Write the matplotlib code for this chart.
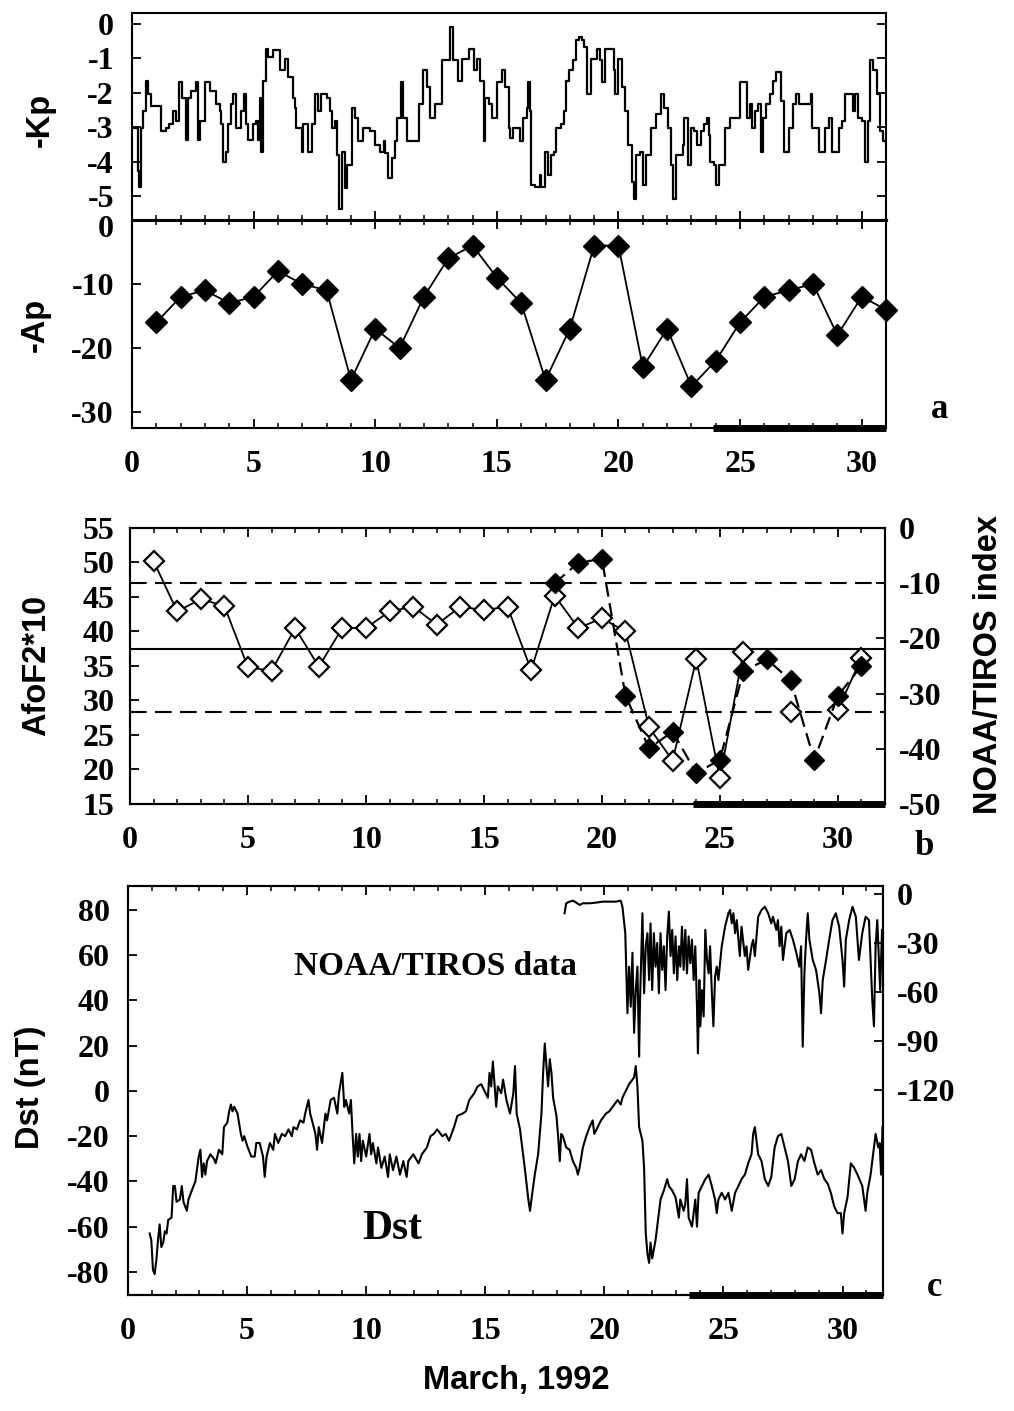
import matplotlib.pyplot as plt
from matplotlib.ticker import MultipleLocator
from matplotlib.transforms import ScaledTranslation

# ---- panel a: Kp (3-hourly) ----
kp_day = [0.00, 0.23, 0.30, 0.37, 0.44, 0.58, 0.65, 0.78, 1.13, 1.20, 1.26, 1.40, 1.54, 1.68, 1.81,
          1.95, 2.06, 2.20, 2.30, 2.43, 2.64, 2.71, 2.78, 3.02, 3.19, 3.46, 3.60, 3.67, 3.74, 3.85,
          3.95, 4.08, 4.15, 4.29, 4.49, 4.59, 4.70, 4.77, 4.98, 5.11, 5.18, 5.25, 5.32, 5.39, 5.50,
          5.59, 5.80, 6.08, 6.28, 6.42, 6.63, 6.69, 6.76, 6.97, 7.04, 7.24, 7.38, 7.52, 7.66, 7.79,
          8.00, 8.14, 8.21, 8.34, 8.41, 8.52, 8.62, 8.76, 8.82, 9.03, 9.17, 9.31, 9.51, 9.79, 9.99,
          10.20, 10.34, 10.41, 10.54, 10.68, 10.82, 10.89, 11.05, 11.16, 11.30, 11.57, 11.78, 11.96,
          12.12, 12.26, 12.47, 12.74, 13.06, 13.20, 13.40, 13.57, 13.84, 14.05, 14.19, 14.32, 14.46,
          14.53, 14.67, 14.80, 15.01, 15.22, 15.35, 15.49, 15.54, 15.68, 15.88, 15.95, 16.08, 16.22,
          16.28, 16.35, 16.42, 16.55, 16.76, 16.82, 16.96, 17.09, 17.23, 17.36, 17.43, 17.64, 17.77,
          17.84, 17.97, 18.11, 18.24, 18.38, 18.51, 18.58, 18.72, 18.85, 19.12, 19.26, 19.32, 19.46,
          19.66, 19.80, 19.86, 20.00, 20.14, 20.27, 20.41, 20.54, 20.65, 20.74, 20.88, 21.01, 21.15,
          21.35, 21.55, 21.76, 21.89, 22.03, 22.16, 22.23, 22.36, 22.64, 22.70, 22.84, 22.97, 23.11,
          23.24, 23.38, 23.51, 23.65, 23.72, 23.78, 23.92, 23.99, 24.12, 24.26, 24.39, 24.59, 24.86,
          25.00, 25.20, 25.27, 25.41, 25.47, 25.61, 25.74, 25.88, 25.95, 26.08, 26.22, 26.35, 26.49,
          26.69, 26.82, 27.03, 27.16, 27.30, 27.43, 27.70, 27.91, 27.97, 28.11, 28.24, 28.51, 28.65,
          28.78, 28.92, 29.05, 29.19, 29.32, 29.53, 29.66, 29.73, 29.86, 30.00, 30.14, 30.27, 30.34,
          30.47, 30.61, 30.74, 30.88, 31.00]
kp_val = [-3.02, -4.29, -4.74, -3.02, -2.53, -1.65, -2.04, -2.38, -2.38, -3.12, -3.12, -3.02, -2.92,
          -2.53, -2.82, -1.70, -2.14, -3.36, -2.14, -1.94, -1.70, -3.36, -2.82, -1.70, -1.94, -2.33,
          -2.53, -2.92, -4.00, -3.71, -2.92, -2.33, -2.04, -3.02, -2.53, -2.04, -2.92, -3.36, -2.92,
          -2.82, -3.36, -2.14, -3.71, -1.65, -0.72, -0.96, -0.76, -1.35, -1.01, -1.55, -2.14, -2.43,
          -3.02, -3.71, -2.92, -3.71, -2.92, -2.04, -2.53, -2.04, -2.14, -2.53, -3.02, -2.82, -3.80,
          -5.37, -3.71, -4.78, -4.10, -2.43, -2.73, -3.41, -3.02, -3.12, -3.51, -3.71, -3.41, -3.75,
          -4.49, -3.90, -3.41, -2.73, -1.70, -2.73, -3.41, -3.41, -2.33, -1.35, -1.84, -2.73, -2.33,
          -1.06, -0.08, -1.06, -1.65, -1.01, -0.72, -1.35, -1.01, -1.65, -3.41, -2.14, -2.33, -2.73,
          -1.70, -1.35, -1.84, -3.02, -3.31, -3.02, -3.02, -3.41, -2.73, -2.43, -1.70, -2.53, -4.69,
          -4.74, -4.39, -4.74, -3.71, -4.39, -3.80, -3.71, -3.02, -2.92, -2.53, -1.65, -1.35, -1.06,
          -0.47, -0.37, -0.47, -0.67, -2.04, -1.01, -0.72, -1.06, -1.70, -0.72, -0.72, -1.35, -2.04,
          -1.01, -1.84, -2.53, -3.51, -4.59, -5.08, -3.80, -3.71, -4.69, -3.80, -3.02, -2.63, -2.04,
          -2.43, -3.02, -4.10, -5.08, -3.80, -3.51, -2.73, -4.10, -3.02, -3.12, -3.51, -3.12, -2.92,
          -2.73, -3.22, -4.00, -4.10, -4.69, -4.10, -4.10, -3.02, -2.73, -2.73, -1.70, -1.70, -2.73,
          -2.33, -3.02, -2.53, -2.33, -3.71, -2.73, -2.33, -2.04, -1.65, -1.40, -2.24, -3.71, -3.02,
          -2.33, -2.04, -2.33, -2.33, -2.04, -3.02, -3.02, -3.71, -3.02, -2.73, -3.71, -3.71, -3.02,
          -2.82, -2.04, -2.04, -2.53, -2.04, -2.73, -2.82, -4.00, -2.82, -1.06, -1.35, -2.04, -3.12,
          -3.41, -3.50]

# ---- panel a: daily Ap ----
ap_day = list(range(1, 32))
ap_neg = [-16, -12, -11, -13, -12, -8, -10, -11, -25, -17, -20, -12, -6, -4, -9, -13,
          -25, -17, -4, -4, -23, -17, -26, -22, -16, -12, -11, -10, -18, -12, -14]

# ---- panel b: AfoF2*10 (open) and NOAA/TIROS index (filled) ----
fof2_day = list(range(1, 32))
fof2_val = [50.2, 42.9, 44.7, 43.7, 34.8, 34.3, 40.5, 34.9, 40.5, 40.5, 42.9, 43.6, 41.0, 43.6,
            43.1, 43.6, 34.4, 45.2, 40.5, 41.9, 40.0, 26.1, 21.3, 36.0, 18.7, 37.1, float('nan'),
            28.4, float('nan'), 28.6, 36.2]
noaa_day = list(range(18, 32))
noaa_idx = [-10.0, -6.3, -5.6, -30.4, -39.9, -36.9, -44.4, -42.0, -25.9, -23.8, -27.6, -42.0,
            -30.4, -25.0]
fof2_levels = [47.0, 37.4, 28.3]
fof2_styles = ['--', '-', '--']

# ---- panel c: Dst (nT) ----
dst_day = [0.91, 0.98, 1.05, 1.12, 1.19, 1.26, 1.33, 1.40, 1.48, 1.55, 1.62, 1.69, 1.83, 1.90, 1.97,
           2.04, 2.18, 2.26, 2.33, 2.47, 2.54, 2.68, 2.83, 2.97, 3.04, 3.11, 3.18, 3.25, 3.32, 3.46,
           3.61, 3.68, 3.82, 3.96, 4.03, 4.17, 4.25, 4.32, 4.39, 4.46, 4.60, 4.74, 4.81, 4.88, 5.03,
           5.18, 5.32, 5.39, 5.53, 5.67, 5.74, 5.82, 5.96, 6.10, 6.17, 6.31, 6.46, 6.60, 6.74, 6.88,
           6.95, 7.09, 7.23, 7.37, 7.44, 7.58, 7.65, 7.80, 7.87, 7.94, 8.01, 8.15, 8.29, 8.36, 8.51,
           8.65, 8.79, 8.86, 9.00, 9.08, 9.15, 9.29, 9.36, 9.43, 9.50, 9.58, 9.65, 9.72, 9.79, 9.86,
           10.00, 10.14, 10.21, 10.28, 10.43, 10.50, 10.64, 10.78, 10.92, 10.99, 11.13, 11.27, 11.42,
           11.56, 11.70, 11.77, 11.98, 12.20, 12.34, 12.55, 12.70, 12.84, 12.98, 13.20, 13.34, 13.48,
           13.69, 13.83, 14.05, 14.19, 14.33, 14.54, 14.68, 14.83, 14.97, 15.11, 15.18, 15.25, 15.32,
           15.39, 15.46, 15.53, 15.67, 15.75, 15.89, 16.04, 16.18, 16.25, 16.32, 16.46, 16.53, 16.67,
           16.81, 16.88, 16.94, 17.08, 17.22, 17.36, 17.43, 17.50, 17.57, 17.64, 17.71, 17.78, 17.85,
           17.99, 18.06, 18.13, 18.19, 18.26, 18.40, 18.54, 18.68, 18.82, 18.89, 18.96, 19.10, 19.24,
           19.38, 19.51, 19.58, 19.72, 19.86, 20.07, 20.21, 20.35, 20.56, 20.69, 20.76, 20.90, 21.04,
           21.25, 21.32, 21.39, 21.46, 21.60, 21.67, 21.74, 21.81, 21.88, 21.94, 22.01, 22.15, 22.22,
           22.36, 22.50, 22.64, 22.71, 22.85, 22.99, 23.13, 23.19, 23.33, 23.40, 23.47, 23.54, 23.68,
           23.82, 23.89, 23.96, 24.10, 24.24, 24.38, 24.51, 24.65, 24.72, 24.79, 24.93, 25.07, 25.21,
           25.35, 25.49, 25.63, 25.76, 25.90, 26.04, 26.18, 26.25, 26.32, 26.46, 26.60, 26.74, 26.88,
           27.01, 27.15, 27.29, 27.43, 27.57, 27.71, 27.85, 27.99, 28.13, 28.26, 28.40, 28.54, 28.68,
           28.82, 28.96, 29.10, 29.24, 29.38, 29.51, 29.65, 29.79, 29.93, 30.00, 30.07, 30.21, 30.35,
           30.49, 30.63, 30.83, 30.97, 31.04, 31.18, 31.32, 31.39, 31.50, 31.56, 31.62, 31.68]
dst_val = [-63, -66, -79, -81, -75, -66, -59, -69, -67, -62, -63, -57, -56, -42, -42, -49, -48, -42,
           -49, -53, -48, -44, -40, -29, -26, -38, -32, -37, -31, -28, -30, -32, -26, -28, -16, -14,
           -9, -6, -9, -7, -10, -19, -22, -20, -25, -29, -29, -23, -23, -29, -38, -29, -23, -26, -19,
           -23, -19, -20, -17, -20, -16, -17, -13, -14, -10, -4, -10, -16, -19, -26, -16, -23, -10,
           -13, -4, -3, -10, -1, 8, -7, -4, -10, -4, -19, -32, -19, -29, -19, -31, -22, -29, -19, -28,
           -23, -32, -25, -34, -29, -38, -28, -35, -29, -37, -31, -38, -31, -28, -32, -28, -25, -20,
           -19, -17, -20, -19, -22, -16, -11, -10, -9, -4, -1, 2, 3, 0, -3, 8, 2, 13, 3, -7, 2, -1, 5,
           -4, -10, -1, 11, -10, -17, -23, -35, -48, -53, -48, -37, -28, -10, 8, 21, 11, 2, 14, 8, -3,
           -11, -20, -31, -19, -20, -25, -26, -31, -34, -37, -34, -25, -20, -16, -13, -19, -16, -13,
           -10, -9, -7, -4, -6, -3, 0, 3, 6, 11, 2, -16, -22, -34, -63, -72, -76, -67, -74, -66, -60,
           -48, -44, -39, -42, -44, -47, -56, -48, -53, -50, -39, -56, -60, -48, -60, -45, -42, -39,
           -37, -42, -48, -54, -48, -45, -48, -45, -53, -45, -42, -39, -37, -32, -28, -19, -16, -28,
           -31, -39, -42, -38, -25, -20, -19, -25, -31, -42, -39, -31, -28, -31, -25, -26, -32, -37,
           -35, -39, -41, -45, -51, -54, -54, -63, -54, -47, -32, -34, -37, -42, -53, -45, -37, -25,
           -19, -25, -23, -37, -16]

# ---- panel c: NOAA/TIROS data (right axis) ----
tiros_day = [18.33, 18.40, 18.54, 18.68, 18.82, 18.96, 19.10, 19.38, 19.65, 19.93, 20.21, 20.49,
             20.69, 20.76, 20.88, 20.93, 20.97, 21.04, 21.11, 21.18, 21.25, 21.32, 21.39, 21.46,
             21.50, 21.56, 21.60, 21.67, 21.74, 21.81, 21.88, 21.94, 22.01, 22.08, 22.15, 22.22,
             22.29, 22.36, 22.43, 22.50, 22.57, 22.64, 22.71, 22.78, 22.85, 22.92, 22.99, 23.06,
             23.13, 23.19, 23.26, 23.33, 23.40, 23.47, 23.54, 23.61, 23.68, 23.75, 23.82, 23.89,
             23.93, 23.99, 24.03, 24.10, 24.17, 24.24, 24.31, 24.38, 24.44, 24.51, 24.58, 24.65,
             24.72, 24.79, 24.93, 25.07, 25.21, 25.28, 25.35, 25.42, 25.49, 25.56, 25.63, 25.69,
             25.76, 25.90, 25.97, 26.04, 26.18, 26.25, 26.32, 26.46, 26.60, 26.74, 26.88, 27.01,
             27.08, 27.22, 27.29, 27.36, 27.43, 27.50, 27.64, 27.78, 27.92, 28.06, 28.19, 28.26,
             28.33, 28.40, 28.47, 28.54, 28.61, 28.75, 28.89, 29.03, 29.10, 29.17, 29.31, 29.44,
             29.58, 29.72, 29.86, 30.00, 30.07, 30.14, 30.28, 30.42, 30.56, 30.69, 30.83, 30.97,
             31.11, 31.25, 31.32, 31.39, 31.46, 31.58, 31.66]
tiros_val = [-11.8, -5.7, -4.7, -4.1, -5.3, -6.7, -5.7, -5.7, -5.3, -4.7, -4.7, -4.7, -4.1, -7.8,
             -24, -52.7, -73, -44.5, -69, -36, -85, -58.8, -44.5, -99.6, -65, -32, -11.8, -60.8,
             -32, -24, -52.7, -18, -58.8, -24, -44.5, -30, -60.8, -24, -46.5, -32, -58.8, -26,
             -10.8, -38, -22, -48.6, -26, -52.7, -32, -44.5, -20, -46.5, -22, -48.6, -26, -42.4,
             -28, -52.7, -32, -69, -97.6, -52.7, -81, -58.8, -75, -22, -40.4, -48.6, -32, -58.8,
             -81, -50.6, -44.5, -52.7, -32, -20, -11.8, -9.8, -18, -11.8, -24, -16, -28, -38, -20,
             -38, -32, -46.5, -32, -28, -38, -13.9, -9.8, -7.8, -11.8, -18, -13.9, -22, -16, -32,
             -20, -40.4, -24, -22, -28, -36, -44.5, -32, -93.5, -48.6, -28, -11.8, -28, -40.4,
             -46.5, -60.8, -73, -52.7, -40.4, -28, -16, -11.8, -20, -40.4, -56.7, -28, -16, -7.8,
             -13.9, -40.4, -24, -13.9, -16, -65, -81, -32, -16, -58.8, -22]

storm_start = [23.9, 23.85, 23.55]   # thick bar under each panel: days 24-31

plt.rcParams['font.family'] = 'Liberation Serif'
plt.rcParams['font.weight'] = 'bold'
plt.rcParams['font.size'] = 23
plt.rcParams['axes.unicode_minus'] = False
plt.rcParams['xtick.direction'] = 'in'
plt.rcParams['ytick.direction'] = 'in'
plt.rcParams['axes.linewidth'] = 1.5

lab = {'family': 'Liberation Sans', 'weight': 'bold', 'size': 23.5}


def style(ax, major=6.5, minor=3.5):
    ax.tick_params(which='major', length=major, width=1.3)
    ax.tick_params(which='minor', length=minor, width=1.1)


fig = plt.figure(figsize=(10.14, 14.11), dpi=100)

# ---------- a ----------
ax_kp = fig.add_axes([0.1302, 0.8441, 0.7436, 0.1467])
ax_ap = fig.add_axes([0.1302, 0.6967, 0.7436, 0.1474], sharex=ax_kp)

ax_kp.plot(kp_day, kp_val, color='black', lw=1.6, drawstyle='steps-post')
ax_kp.set_xlim(0, 31)
ax_kp.set_ylim(-5.7, 0.32)
ax_kp.set_yticks([0, -1, -2, -3, -4, -5])
ax_kp.xaxis.set_major_locator(MultipleLocator(5))
ax_kp.xaxis.set_minor_locator(MultipleLocator(1))
ax_kp.tick_params(axis='x', which='both', top=False, bottom=True, labelbottom=False)
ax_kp.tick_params(axis='y', left=True, right=True, pad=13)
ax_kp.spines['bottom'].set_linewidth(2.2)
style(ax_kp)

ax_ap.plot(ap_day, ap_neg, color='black', lw=1.3, marker='D', ms=11,
           mfc='black', mec='black', clip_on=False, zorder=3)
ax_ap.set_ylim(-32.5, 0)
ax_ap.set_yticks([0, -10, -20, -30])
ax_ap.tick_params(axis='x', which='both', top=True, bottom=True, pad=16)
ax_ap.tick_params(axis='y', left=True, right=False, pad=13)
ax_ap.set_xticks([0, 5, 10, 15, 20, 25, 30])
ax_ap.spines['top'].set_linewidth(2.2)
style(ax_ap)
# the "0" of -Ap sits on the shared boundary; nudge it down a little
zero_lbl = ax_ap.get_yticklabels()[0]
zero_lbl.set_transform(zero_lbl.get_transform() + ScaledTranslation(0, -4 / 72, fig.dpi_scale_trans))
ax_ap.plot([storm_start[0], 31], [-32.5, -32.5], color='black', lw=5,
           solid_capstyle='butt', clip_on=False, zorder=4)

fig.text(40 / 1014, 1 - 120 / 1411, '-Kp', rotation=90, ha='center', va='center', **lab)
fig.text(35 / 1014, 1 - 325 / 1411, '-Ap', rotation=90, ha='center', va='center', **lab)
fig.text(940 / 1014, 1 - 410 / 1411, 'a', ha='center', va='center', size=25)

# ---------- b ----------
ax_b = fig.add_axes([0.1282, 0.4302, 0.7446, 0.1956])
ax_b2 = ax_b.twinx()
for lvl, ls in zip(fof2_levels, fof2_styles):
    if ls == '--':
        ax_b.axhline(lvl, color='black', lw=1.5, ls='--', dashes=(8, 4))
    else:
        ax_b.axhline(lvl, color='black', lw=1.5)
ax_b.plot(fof2_day, fof2_val, color='black', lw=1.3, marker='D', ms=10,
          mfc='white', mec='black', mew=1.6, zorder=3)
ax_b2.plot(noaa_day, noaa_idx, color='black', lw=1.6, ls='--', dashes=(6, 3),
           marker='D', ms=10, mfc='black', mec='black', zorder=3)
ax_b.set_xlim(0, 32)
ax_b.set_ylim(15, 55)
ax_b2.set_ylim(-50, 0)
ax_b.set_yticks(range(15, 56, 5))
ax_b2.set_yticks(range(-50, 1, 10))
ax_b.xaxis.set_major_locator(MultipleLocator(5))
ax_b.xaxis.set_minor_locator(MultipleLocator(1))
ax_b.set_xticks([0, 5, 10, 15, 20, 25, 30])
ax_b.tick_params(axis='x', which='both', top=True, bottom=True, pad=16)
ax_b.tick_params(axis='y', left=True, right=False, pad=11)
ax_b2.tick_params(axis='y', right=True, pad=10)
style(ax_b)
style(ax_b2)
ax_b.plot([storm_start[1], 32], [15, 15], color='black', lw=5,
          solid_capstyle='butt', clip_on=False, zorder=4)

fig.text(37 / 1014, 1 - 665 / 1411, 'AfoF2*10', rotation=90, ha='center', va='center', **lab)
fig.text(988 / 1014, 1 - 664 / 1411, 'NOAA/TIROS index', rotation=90, ha='center',
         va='center', **lab)
fig.text(924 / 1014, 1 - 847 / 1411, 'b', ha='center', va='center', size=25)

# ---------- c ----------
ax_c = fig.add_axes([0.1262, 0.0822, 0.7446, 0.2899])
ax_c2 = ax_c.twinx()
ax_c.plot(dst_day, dst_val, color='black', lw=1.5)
ax_c2.plot(tiros_day, tiros_val, color='black', lw=1.5)
ax_c.set_xlim(0, 31.7)
ax_c.set_ylim(-90.2, 90.6)
ax_c2.set_ylim(-245.5, 4.9)
ax_c.set_yticks(range(-80, 81, 20))
ax_c2.set_yticks([0, -30, -60, -90, -120])
ax_c.xaxis.set_major_locator(MultipleLocator(5))
ax_c.xaxis.set_minor_locator(MultipleLocator(1))
ax_c.set_xticks([0, 5, 10, 15, 20, 25, 30])
ax_c.tick_params(axis='x', which='both', top=True, bottom=True, pad=16)
ax_c.tick_params(axis='y', left=True, right=False, pad=13)
ax_c2.tick_params(axis='y', right=True, pad=10)
style(ax_c)
style(ax_c2)
ax_c.plot([storm_start[2], 31.7], [-90.2, -90.2], color='black', lw=5,
          solid_capstyle='butt', clip_on=False, zorder=4)
ax_c.text(12.9, 55, 'NOAA/TIROS data', ha='center', va='center', size=24)
ax_c.text(11.1, -61, 'Dst', ha='center', va='center', size=30)

fig.text(30 / 1014, 1 - 1087 / 1411, 'Dst (nT)', rotation=90, ha='center', va='center', **lab)
fig.text(935 / 1014, 1 - 1288 / 1411, 'c', ha='center', va='center', size=25)
fig.text(516 / 1014, 1 - 1380 / 1411, 'March, 1992', ha='center', va='center', **lab)

fig.savefig('out.png', dpi=100)
